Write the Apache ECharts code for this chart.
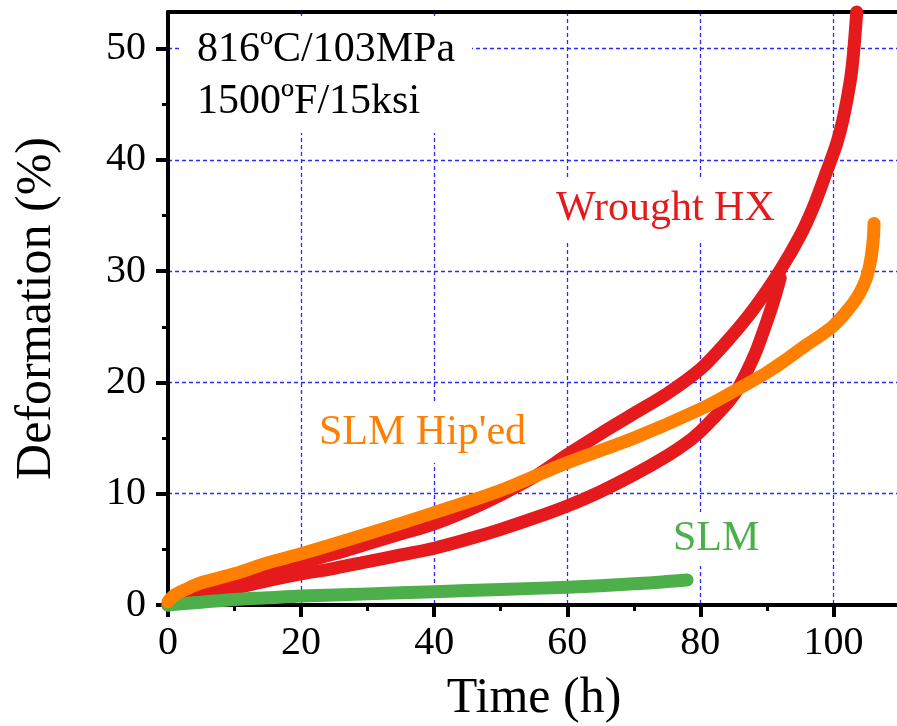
<!DOCTYPE html>
<html>
<head>
<meta charset="utf-8">
<script src="https://cdn.jsdelivr.net/npm/echarts@6/dist/echarts.min.js"></script>
<style>
  html, body { margin: 0; padding: 0; background: #fff; }
  #chart { width: 897px; height: 726px; }
</style>
</head>
<body>
<div id="chart"></div>
<script>
// Creep curves at 816ºC / 103 MPa: deformation (%) against time (h)

// Wrought HX, specimen ruptured near 103.5 h
const wroughtATime = [0, 2, 5, 10, 15, 20, 25, 30, 35, 40, 45, 50, 55, 60, 65, 70, 75, 80, 84, 88, 92, 95, 97, 99, 100.5, 101.5, 102.5, 103, 103.5];
const wroughtAStrain = [0, 0.4, 1.0, 1.9, 2.9, 3.8, 4.6, 5.5, 6.4, 7.3, 8.5, 9.9, 11.5, 13.5, 15.4, 17.2, 19.0, 21.2, 23.7, 26.6, 30.1, 33.2, 35.8, 39.0, 41.5, 43.8, 47.0, 49.5, 53.3];

// Wrought HX, specimen ruptured near 92 h
const wroughtBTime = [0, 2, 5, 10, 15, 20, 25, 30, 35, 40, 45, 50, 55, 60, 65, 70, 75, 78, 80, 82, 84, 85.5, 87, 88.5, 90, 91, 92];
const wroughtBStrain = [0, 0.3, 0.8, 1.5, 2.2, 2.8, 3.3, 3.9, 4.5, 5.1, 5.9, 6.8, 7.8, 8.9, 10.2, 11.7, 13.4, 14.6, 15.6, 16.8, 18.1, 19.3, 21.0, 23.0, 25.5, 27.3, 29.4];

// SLM + HIP
const hipedTime = [0, 1, 3, 5, 10, 15, 20, 30, 40, 50, 60, 70, 80, 85, 90, 93, 96, 98, 100, 102, 103.5, 104.5, 105.2, 105.7, 106.0, 106.1];
const hipedStrain = [0.3, 0.9, 1.5, 2.0, 2.8, 3.8, 4.6, 6.4, 8.3, 10.3, 12.8, 15.0, 17.6, 19.2, 20.9, 22.1, 23.4, 24.2, 25.1, 26.4, 27.6, 28.7, 29.9, 31.4, 33.0, 34.3];

// As-built SLM
const slmTime = [0, 2, 5, 10, 15, 20, 30, 40, 50, 60, 70, 78];
const slmStrain = [0, 0.1, 0.25, 0.5, 0.65, 0.8, 1.0, 1.2, 1.4, 1.6, 1.9, 2.25];

// Axis ranges
const xMax = 110;
const xStep = 20;
const yFrameMax = 53.3;   // top of the framed plot area
const yTickMax = 55;      // tick scale runs on to a whole step
const yStep = 10;

const FONT = 'Liberation Serif';
const RED = '#e41a1c', ORANGE = '#ff7f00', GREEN = '#4daf4a';
const GRID_BLUE = '#2a2aff';

const zip = (xs, ys) => xs.map((x, i) => [x, ys[i]]);

// Layout of the plot frame (pixels)
const frameLeft = 168, frameTop = 12, frameBottom = 121, frameRight = -3;
const frameHeight = 726 - frameTop - frameBottom;
const tickGridTop = frameTop - (yTickMax - yFrameMax) * frameHeight / yFrameMax;

const chart = echarts.init(document.getElementById('chart'), null, { renderer: 'canvas' });

const blackLine = { color: '#000', width: 4 };
const gridLine = { show: true, lineStyle: { color: GRID_BLUE, width: 1.3, type: [4, 3] } };

function curve(name, xs, ys, color) {
  return {
    name, type: 'line', xAxisIndex: 0, yAxisIndex: 0,
    data: zip(xs, ys),
    showSymbol: false, symbol: 'none',
    smooth: 0.3,
    clip: false,
    lineStyle: { color, width: 13, cap: 'round', join: 'round' },
    emphasis: { disabled: true },
    z: 3
  };
}

chart.setOption({
  animation: false,
  backgroundColor: '#fff',
  grid: [
    { left: frameLeft, right: frameRight, top: frameTop, bottom: frameBottom, containLabel: false, outerBoundsMode: 'none' },
    { left: frameLeft, right: frameRight, top: tickGridTop, bottom: frameBottom, containLabel: false, outerBoundsMode: 'none' }
  ],
  xAxis: [
    {
      gridIndex: 0, type: 'value', position: 'bottom', min: 0, max: xMax, interval: xStep,
      name: 'Time (h)', nameLocation: 'middle', nameGap: 69,
      nameTextStyle: { fontFamily: FONT, fontSize: 50, color: '#000' },
      axisLine: { show: true, onZero: false, lineStyle: blackLine },
      axisTick: { show: true, inside: false, length: 12, lineStyle: { color: '#000', width: 4 } },
      minorTick: { show: true, splitNumber: 2, length: 6, lineStyle: { color: '#000', width: 3 } },
      axisLabel: { fontFamily: FONT, fontSize: 40, color: '#000', margin: 18, showMaxLabel: false },
      splitLine: gridLine,
      minorSplitLine: { show: false }
    },
    {
      gridIndex: 0, type: 'value', position: 'top', min: 0, max: xMax,
      axisLine: { show: true, onZero: false, lineStyle: blackLine },
      axisTick: { show: false }, axisLabel: { show: false }, splitLine: { show: false }
    },
    { gridIndex: 1, type: 'value', min: 0, max: xMax, show: false }
  ],
  yAxis: [
    {
      gridIndex: 0, type: 'value', position: 'left', min: 0, max: yFrameMax, interval: yStep,
      name: 'Deformation (%)', nameLocation: 'middle', nameGap: 106,
      nameTextStyle: { fontFamily: FONT, fontSize: 50, color: '#000' },
      axisLine: { show: true, onZero: false, lineStyle: blackLine },
      axisTick: { show: false }, axisLabel: { show: false },
      splitLine: gridLine
    },
    {
      gridIndex: 1, type: 'value', position: 'left', min: 0, max: yTickMax, interval: yStep,
      axisLine: { show: false },
      axisTick: { show: true, inside: false, length: 12, lineStyle: { color: '#000', width: 4 } },
      minorTick: { show: true, splitNumber: 2, length: 6, lineStyle: { color: '#000', width: 3 } },
      axisLabel: { fontFamily: FONT, fontSize: 40, color: '#000', margin: 22, showMaxLabel: false },
      splitLine: { show: false }
    }
  ],
  series: [
    curve('Wrought HX', wroughtBTime, wroughtBStrain, RED),
    curve('Wrought HX', wroughtATime, wroughtAStrain, RED),
    curve('SLM', slmTime, slmStrain, GREEN),
    curve("SLM Hip'ed", hipedTime, hipedStrain, ORANGE)
  ],
  graphic: [
    { type: 'rect', z: 1, shape: { x: 180, y: 17, width: 292, height: 116 }, style: { fill: '#fff' } },
    { type: 'text', z: 2, x: 197, y: 50, style: { text: '816ºC/103MPa', font: `42px ${FONT}`, fill: '#000', verticalAlign: 'middle' } },
    { type: 'text', z: 2, x: 197, y: 102, style: { text: '1500ºF/15ksi', font: `42px ${FONT}`, fill: '#000', verticalAlign: 'middle' } },
    { type: 'text', z: 2, x: 544, y: 209, style: { text: 'Wrought HX', font: `42px ${FONT}`, fill: RED, verticalAlign: 'middle', backgroundColor: '#fff', padding: [10, 14, 10, 12] } },
    { type: 'text', z: 2, x: 307, y: 433, style: { text: "SLM Hip'ed", font: `42px ${FONT}`, fill: ORANGE, verticalAlign: 'middle', backgroundColor: '#fff', padding: [9, 12, 9, 12] } },
    { type: 'text', z: 2, x: 661, y: 539, style: { text: 'SLM', font: `42px ${FONT}`, fill: GREEN, verticalAlign: 'middle', backgroundColor: '#fff', padding: [6, 12, 6, 12] } }
  ]
});
</script>
</body>
</html>
